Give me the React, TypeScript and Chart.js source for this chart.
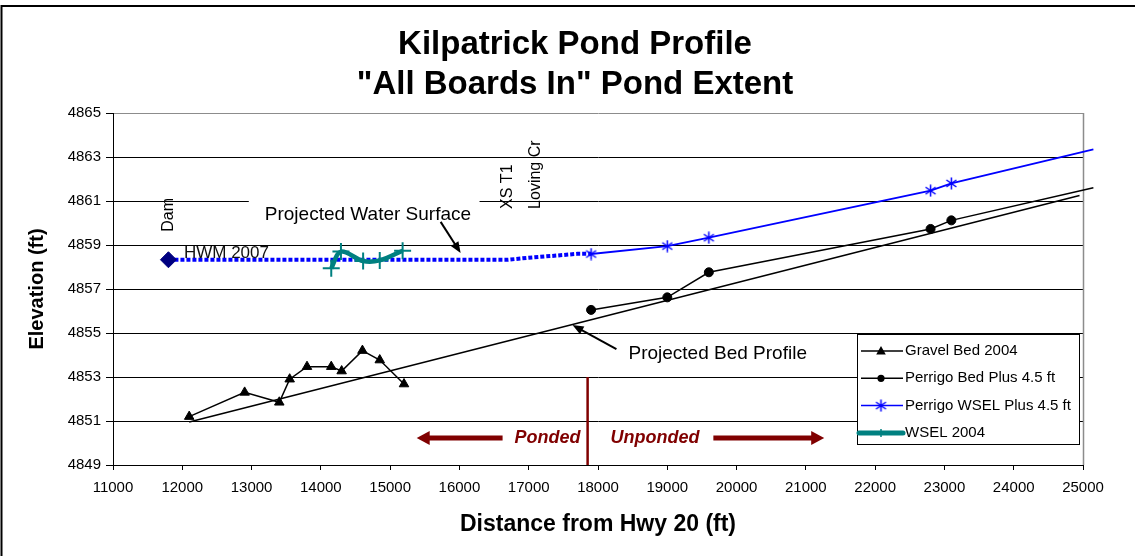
import React, { useEffect, useRef } from "react";
import { Chart, registerables } from "chart.js";

Chart.register(...registerables);

const FONT = "'Liberation Sans', Arial, Helvetica, sans-serif";

// ---------- text ----------
const chartTitle = ["Kilpatrick Pond Profile", "\"All Boards In\" Pond Extent"];
const xAxisTitle = "Distance from Hwy 20 (ft)";
const yAxisTitle = "Elevation (ft)";
const legendLabels = ["Gravel Bed 2004", "Perrigo Bed Plus 4.5 ft", "Perrigo WSEL Plus 4.5 ft", "WSEL 2004"];

// ---------- axes ----------
const xMin = 11000;
const xMax = 25000;
const xStep = 1000;
const yMin = 4849;
const yMax = 4865;
const yStep = 2;

// ---------- series ----------
const gravelBedX = [12100, 12900, 13400, 13550, 13800, 14150, 14300, 14600, 14850, 15200];
const gravelBedY = [4851.2, 4852.3, 4851.85, 4852.9, 4853.47, 4853.47, 4853.27, 4854.2, 4853.77, 4852.68];

const perrigoBedX = [17900, 19000, 19600, 22800, 23100, 25150];
const perrigoBedY = [4856.05, 4856.62, 4857.76, 4859.73, 4860.12, 4861.6];

const perrigoWselX = [17900, 19000, 19600, 22800, 23100, 25150];
const perrigoWselY = [4858.59, 4858.95, 4859.33, 4861.47, 4861.8, 4863.35];

const wsel2004X = [14150, 14290, 14610, 14850, 15180];
const wsel2004Y = [4857.94, 4858.7, 4858.27, 4858.3, 4858.74];

const projWaterX = [11800, 16700, 17000, 17400, 17700, 17900];
const projWaterY = [4858.33, 4858.33, 4858.42, 4858.52, 4858.6, 4858.6];

const projBedX = [12100, 24950];
const projBedY = [4850.95, 4861.25];

const hwmX = [11800];
const hwmY = [4858.33];

const pondLimitX = [17850, 17850];
const pondLimitY = [4849, 4853];

// ---------- annotation placement (data units) ----------
const notes = {
  dam: { text: "Dam", x: 11800, y: 4859.6 },
  xs: { text: "XS T1", x: 16695, y: 4860.64 },
  loving: { text: "Loving Cr", x: 17099, y: 4860.64 },
  hwm: { text: "HWM 2007", x: 12024, y: 4858.64 },
  water: { text: "Projected Water Surface", x: 13191, y: 4860.39 },
  waterBox: { x1: 12960, x2: 16290, y1: 4861.3, y2: 4859.9 },
  waterArrow: { x1: 15729, y1: 4860.05, x2: 16017, y2: 4858.64 },
  bed: { text: "Projected Bed Profile", x: 18440, y: 4854.05 },
  bedArrow: { x1: 18266, y1: 4854.27, x2: 17632, y2: 4855.36 },
  ponded: { text: "Ponded", x: 17747, y: 4850.23 },
  unponded: { text: "Unponded", x: 18180, y: 4850.23 },
  leftArrow: { x1: 16623, x2: 15383, y: 4850.23 },
  rightArrow: { x1: 19665, x2: 21265, y: 4850.23 },
};

const pts = (xs: number[], ys: number[]) => xs.map((x, i) => ({ x, y: ys[i] }));

function makeStar(color: string) {
  const c = document.createElement("canvas");
  c.width = 13;
  c.height = 13;
  const g = c.getContext("2d")!;
  g.strokeStyle = color;
  g.lineWidth = 1.5;
  g.beginPath();
  g.moveTo(6.5, 0.5);
  g.lineTo(6.5, 12.5);
  g.moveTo(1.5, 3);
  g.lineTo(11.5, 10);
  g.moveTo(1.5, 10);
  g.lineTo(11.5, 3);
  g.stroke();
  return c;
}

function arrow(ctx: CanvasRenderingContext2D, x1: number, y1: number, x2: number, y2: number, shaftW: number, headLen: number, headW: number, color: string) {
  const ang = Math.atan2(y2 - y1, x2 - x1);
  const len = Math.hypot(x2 - x1, y2 - y1);
  ctx.save();
  ctx.translate(x1, y1);
  ctx.rotate(ang);
  ctx.strokeStyle = color;
  ctx.fillStyle = color;
  ctx.lineWidth = shaftW;
  ctx.lineCap = "butt";
  ctx.beginPath();
  ctx.moveTo(0, 0);
  ctx.lineTo(len - headLen + 1, 0);
  ctx.stroke();
  ctx.beginPath();
  ctx.moveTo(len, 0);
  ctx.lineTo(len - headLen, -headW / 2);
  ctx.lineTo(len - headLen, headW / 2);
  ctx.closePath();
  ctx.fill();
  ctx.restore();
}

const decorPlugin = {
  id: "kilpatrickDecor",
  beforeDatasetsDraw(chart: any) {
    const { ctx, chartArea: a } = chart;
    const xs = chart.scales.x;
    const ys = chart.scales.y;
    ctx.save();
    ctx.strokeStyle = "#8c8c8c";
    ctx.lineWidth = 1.5;
    ctx.beginPath();
    ctx.moveTo(a.right + 0.5, a.top);
    ctx.lineTo(a.right + 0.5, a.bottom);
    ctx.stroke();
    const b = notes.waterBox;
    const bx1 = xs.getPixelForValue(b.x1);
    const bx2 = xs.getPixelForValue(b.x2);
    const by1 = ys.getPixelForValue(b.y1);
    const by2 = ys.getPixelForValue(b.y2);
    ctx.fillStyle = "#ffffff";
    ctx.fillRect(bx1, by1, bx2 - bx1, by2 - by1);
    ctx.restore();
  },
  afterDatasetsDraw(chart: any) {
    const { ctx } = chart;
    const xs = chart.scales.x;
    const ys = chart.scales.y;
    const X = (v: number) => xs.getPixelForValue(v);
    const Y = (v: number) => ys.getPixelForValue(v);
    ctx.save();
    // rotated labels
    ctx.fillStyle = "#000";
    ctx.font = `16px ${FONT}`;
    ctx.textAlign = "left";
    ctx.textBaseline = "middle";
    [notes.dam, notes.xs, notes.loving].forEach((n) => {
      ctx.save();
      ctx.translate(X(n.x), Y(n.y));
      ctx.rotate(-Math.PI / 2);
      ctx.fillText(n.text, 0, 0);
      ctx.restore();
    });
    // horizontal labels
    ctx.font = `17px ${FONT}`;
    ctx.fillStyle = "#111";
    ctx.fillText(notes.hwm.text, X(notes.hwm.x), Y(notes.hwm.y));
    ctx.fillStyle = "#000";
    ctx.font = `19px ${FONT}`;
    ctx.fillText(notes.water.text, X(notes.water.x), Y(notes.water.y));
    ctx.fillText(notes.bed.text, X(notes.bed.x), Y(notes.bed.y));
    const wa = notes.waterArrow;
    arrow(ctx, X(wa.x1), Y(wa.y1), X(wa.x2), Y(wa.y2), 2, 11, 9, "#000");
    const ba = notes.bedArrow;
    arrow(ctx, X(ba.x1), Y(ba.y1), X(ba.x2), Y(ba.y2), 2, 11, 9, "#000");
    // ponded / unponded
    const red = "#800000";
    ctx.fillStyle = red;
    ctx.font = `italic bold 18px ${FONT}`;
    ctx.textAlign = "right";
    ctx.fillText(notes.ponded.text, X(notes.ponded.x), Y(notes.ponded.y));
    ctx.textAlign = "left";
    ctx.fillText(notes.unponded.text, X(notes.unponded.x), Y(notes.unponded.y));
    const la = notes.leftArrow;
    arrow(ctx, X(la.x1), Y(la.y), X(la.x2), Y(la.y), 5, 13, 14, red);
    const ra = notes.rightArrow;
    arrow(ctx, X(ra.x1), Y(ra.y), X(ra.x2), Y(ra.y), 5, 13, 14, red);
    ctx.restore();
  },
  afterDraw(chart: any) {
    const { ctx } = chart;
    ctx.save();
    // title
    ctx.fillStyle = "#000";
    ctx.font = `bold 33px ${FONT}`;
    ctx.textAlign = "center";
    ctx.textBaseline = "middle";
    ctx.fillText(chartTitle[0], 575, 45);
    ctx.fillText(chartTitle[1], 575, 85);
    // legend
    const lx = 857.5, ly = 334.5, lw = 222, lh = 110;
    ctx.fillStyle = "#fff";
    ctx.fillRect(lx, ly, lw, lh);
    ctx.strokeStyle = "#000";
    ctx.lineWidth = 1;
    ctx.strokeRect(lx, ly, lw, lh);
    ctx.font = `15px ${FONT}`;
    ctx.textAlign = "left";
    ctx.textBaseline = "middle";
    legendLabels.forEach((label, i) => {
      const ds = chart.data.datasets.find((d: any) => d.label === label);
      const cy = 351 + i * 27.3;
      const s1 = label === "WSEL 2004" ? 859 : 861;
      const s2 = 903;
      const mid = 881;
      ctx.strokeStyle = ds.borderColor;
      ctx.lineWidth = label === "WSEL 2004" ? 5 : 1.5;
      ctx.lineCap = label === "WSEL 2004" ? "round" : "butt";
      ctx.beginPath();
      ctx.moveTo(s1, cy);
      ctx.lineTo(s2, cy);
      ctx.stroke();
      ctx.lineCap = "butt";
      ctx.fillStyle = ds.borderColor;
      if (ds.pointStyle === "triangle") {
        ctx.beginPath();
        ctx.moveTo(mid, cy - 5);
        ctx.lineTo(mid + 4.8, cy + 3.5);
        ctx.lineTo(mid - 4.8, cy + 3.5);
        ctx.closePath();
        ctx.fill();
      } else if (ds.pointStyle === "circle") {
        ctx.beginPath();
        ctx.arc(mid, cy, 3.6, 0, Math.PI * 2);
        ctx.fill();
      } else if (ds.pointStyle === "cross") {
        ctx.lineWidth = 1.5;
        ctx.beginPath();
        ctx.moveTo(mid, cy - 4);
        ctx.lineTo(mid, cy + 4);
        ctx.stroke();
      } else if (ds.pointStyle && typeof ds.pointStyle === "object") {
        const img = ds.pointStyle;
        ctx.drawImage(img, mid - img.width / 2, cy - img.height / 2);
      }
      ctx.fillStyle = "#000";
      ctx.fillText(label, 905, cy);
    });
    // outer border
    ctx.strokeStyle = "#000";
    ctx.lineWidth = 2;
    ctx.beginPath();
    ctx.moveTo(1.5, 600);
    ctx.lineTo(1.5, 6);
    ctx.lineTo(1200, 6);
    ctx.stroke();
    ctx.restore();
  },
};

export default function App() {
  const ref = useRef<HTMLCanvasElement>(null);
  useEffect(() => {
    const canvas = ref.current!;
    const star = makeStar("#0000FF");
    const lastHidden = (n: number, r: number) => (c: any) => (c.dataIndex === n - 1 ? 0 : r);
    const chart = new Chart(canvas, {
      type: "line",
      data: {
        datasets: [
          {
            label: "HWM 2007",
            data: pts(hwmX, hwmY),
            showLine: false,
            pointStyle: "rectRot",
            pointRadius: 8,
            pointBackgroundColor: "#000080",
            pointBorderColor: "#000080",
            pointBorderWidth: 1,
            borderColor: "#000080",
            order: 0,
          },
          {
            label: "WSEL 2004",
            data: pts(wsel2004X, wsel2004Y),
            borderColor: "#008080",
            borderWidth: 4.5,
            tension: 0.35,
            pointStyle: "cross",
            pointRadius: 8.5,
            pointBorderWidth: 2,
            pointBorderColor: "#008080",
            order: 1,
          },
          {
            label: "Gravel Bed 2004",
            data: pts(gravelBedX, gravelBedY),
            borderColor: "#000",
            borderWidth: 1.5,
            pointStyle: "triangle",
            pointRadius: 5.5,
            pointBackgroundColor: "#000",
            pointBorderColor: "#000",
            pointBorderWidth: 1,
            order: 2,
          },
          {
            label: "Perrigo Bed Plus 4.5 ft",
            data: pts(perrigoBedX, perrigoBedY),
            borderColor: "#000",
            borderWidth: 1.5,
            pointStyle: "circle",
            pointRadius: lastHidden(perrigoBedX.length, 4.5),
            pointBackgroundColor: "#000",
            pointBorderColor: "#000",
            pointBorderWidth: 1,
            clip: false,
            order: 3,
          },
          {
            label: "Perrigo WSEL Plus 4.5 ft",
            data: pts(perrigoWselX, perrigoWselY),
            borderColor: "#0000FF",
            borderWidth: 1.8,
            pointStyle: star,
            pointRadius: lastHidden(perrigoWselX.length, 6),
            clip: false,
            order: 4,
          },
          {
            label: "Projected Water Surface",
            data: pts(projWaterX, projWaterY),
            borderColor: "#0000FF",
            borderWidth: 4,
            borderDash: [4, 2],
            borderCapStyle: "butt",
            pointRadius: 0,
            order: 5,
          },
          {
            label: "Projected Bed Profile",
            data: pts(projBedX, projBedY),
            borderColor: "#000",
            borderWidth: 1.5,
            pointRadius: 0,
            order: 6,
          },
          {
            label: "Pond Extent",
            data: pts(pondLimitX, pondLimitY),
            borderColor: "#800000",
            borderWidth: 2.5,
            pointRadius: 0,
            order: 7,
          },
        ],
      },
      options: {
        responsive: false,
        animation: false,
        events: [],
        layout: { padding: { left: 0, right: 52, top: 113, bottom: 0 } },
        plugins: {
          legend: { display: false },
          tooltip: { enabled: false },
          title: { display: false },
        },
        scales: {
          x: {
            type: "linear",
            min: xMin,
            max: xMax,
            afterFit: (s: any) => {
              s.height = 91;
            },
            ticks: {
              stepSize: xStep,
              color: "#000",
              padding: 9,
              font: { family: FONT, size: 15 },
              callback: (v: any) => String(v),
            },
            grid: { drawOnChartArea: false, drawTicks: true, tickLength: 5, color: "#000" },
            border: { color: "#000", width: 1 },
            title: {
              display: true,
              text: xAxisTitle,
              color: "#000",
              font: { family: FONT, size: 23, weight: "bold" },
              padding: { top: 0, bottom: 18 },
            },
          },
          y: {
            type: "linear",
            min: yMin,
            max: yMax,
            afterFit: (s: any) => {
              s.width = 113;
            },
            ticks: {
              stepSize: yStep,
              color: "#000",
              padding: 5,
              font: { family: FONT, size: 15 },
              callback: (v: any) => String(v),
            },
            grid: {
              color: (c: any) => (c.tick && c.tick.value === yMax ? "#8c8c8c" : "#000"),
              tickColor: "#000",
              tickLength: 7,
              lineWidth: 1,
            },
            border: { color: "#000", width: 1 },
            title: {
              display: true,
              text: yAxisTitle,
              color: "#000",
              font: { family: FONT, size: 20, weight: "bold" },
              padding: { top: 25, bottom: 0 },
            },
          },
        },
      },
      plugins: [decorPlugin],
    } as any);
    return () => chart.destroy();
  }, []);
  return (
    <div style={{ position: "absolute", left: 0, top: 0, width: 1135, height: 556, background: "#fff" }}>
      <canvas ref={ref} width={1135} height={556} style={{ display: "block" }} />
    </div>
  );
}
